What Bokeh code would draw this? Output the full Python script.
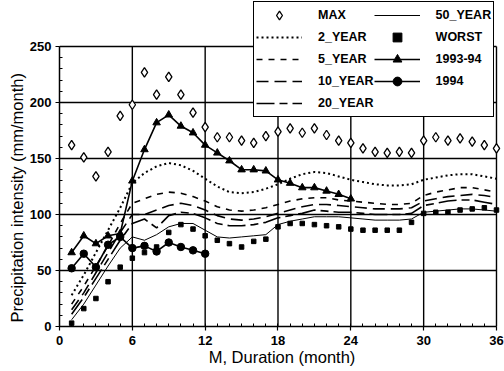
from bokeh.plotting import figure
from bokeh.models import Legend, LegendItem, Range1d, FixedTicker, Title
from bokeh.embed import file_html
from bokeh.resources import INLINE

months = list(range(1, 37))
max_vals = [162, 151, 134, 156, 188, 198, 227, 207, 223, 207, 191, 178,
            169, 169, 166, 164, 170, 174, 177, 173, 177, 171, 166, 164,
            159, 156, 155, 156, 155, 166, 169, 166, 168, 165, 162, 159]
worst_vals = [3, 16, 25, 40, 53, 61, 66, 71, 84, 91, 87, 81,
              77, 74, 71, 76, 78, 89, 92, 92, 91, 90, 89, 87,
              86, 86, 86, 86, 93, 101, 102, 102, 104, 105, 106, 104]
y2 = [28, 46, 66, 86, 106, 128, 137, 143, 146, 144, 139, 132,
      125, 120, 119, 120, 123, 127, 132, 136, 138, 137, 134, 131,
      129, 127, 126, 126, 127, 131, 133, 135, 136, 136, 134, 132]
y5 = [20, 36, 54, 72, 92, 110, 114, 118, 120, 119, 116, 112,
      107, 104, 103, 104, 106, 109, 112, 114, 115, 115, 113, 112,
      111, 110, 109, 109, 110, 117, 120, 122, 124, 124, 122, 120]
y10 = [15, 30, 48, 66, 84, 100, 100, 104, 108, 110, 108, 104,
       99, 96, 95, 96, 98, 101, 104, 107, 109, 109, 108, 107,
       106, 105, 105, 105, 106, 112, 114, 116, 117, 118, 117, 115]
y20 = [11, 26, 43, 60, 77, 92, 96, 88, 99, 102, 101, 97,
       92, 90, 90, 91, 93, 97, 99, 101, 104, 103, 102, 102,
       101, 100, 100, 100, 101, 108, 110, 112, 113, 113, 111, 109]
y50 = [6, 20, 37, 54, 70, 80, 77, 82, 89, 92, 92, 86,
       80, 79, 80, 81, 82, 91, 94, 96, 98, 98, 98, 97,
       96, 95, 95, 95, 96, 102, 103, 104, 105, 105, 104, 103]
m9394 = list(range(1, 25))
v9394 = [66, 81, 74, 81, 83, 130, 158, 182, 189, 179, 173, 162,
         155, 148, 140, 140, 139, 131, 128, 124, 124, 121, 118, 114]
m94 = list(range(1, 13))
v94 = [52, 65, 53, 73, 80, 70, 72, 67, 75, 71, 68, 65]
x_ticks = [0, 6, 12, 18, 24, 30, 36]
y_ticks = [0, 50, 100, 150, 200, 250]

FONT = "Liberation Sans"

# The plotting frame is made a little larger than the 0-36 x 0-250 axes box,
# so that the legend, which overhangs the box, is not clipped.
p = figure(width=504, height=371, output_backend="svg", toolbar_location=None,
           x_range=Range1d(0, 36.66), y_range=Range1d(0, 291.1),
           min_border_left=59, min_border_right=0, min_border_top=0,
           min_border_bottom=45)
p.background_fill_color = "white"
p.border_fill_color = "white"
p.outline_line_color = None
p.grid.visible = False

for ax in (p.xaxis[0], p.yaxis[0]):
    ax.axis_line_width = 1.5
    ax.major_tick_line_width = 1.2
    ax.minor_tick_line_width = 1
    ax.major_tick_in = 0
    ax.major_tick_out = 4
    ax.minor_tick_in = 3
    ax.minor_tick_out = 0
    ax.major_label_text_font = FONT
    ax.major_label_text_font_size = "13px"
    ax.major_label_text_font_style = "bold"
    ax.major_label_text_color = "black"
    ax.axis_label_text_font = FONT
    ax.axis_label_text_font_size = "16.5px"
    ax.axis_label_text_font_style = "normal"
    ax.axis_label_text_color = "black"

p.xaxis.bounds = (x_ticks[0], x_ticks[-1])
p.yaxis.bounds = (y_ticks[0], y_ticks[-1])
p.xaxis.ticker = FixedTicker(ticks=x_ticks, minor_ticks=list(range(0, 37)))
p.yaxis.ticker = FixedTicker(ticks=y_ticks, minor_ticks=list(range(0, 251, 10)))
p.xaxis.axis_label = "M, Duration (month)"
p.xaxis.axis_label_standoff = 0
p.xaxis.major_label_standoff = 5
p.yaxis.major_label_standoff = 4

ylab = Title(text="Precipitation intensity  (mm/month)", align="left", offset=4,
             standoff=2, text_font=FONT, text_font_size="16.5px",
             text_font_style="normal", text_color="black")
p.add_layout(ylab, "left")

# grid lines and the top/right edges of the axes box, limited to the 0-36 x 0-250 box
nv = len(x_ticks) - 1
nh = len(y_ticks) - 1
p.segment(x0=x_ticks[1:], y0=[y_ticks[0]] * nv, x1=x_ticks[1:], y1=[y_ticks[-1]] * nv,
          line_color="black", line_width=1.4)
p.segment(x0=[x_ticks[0]] * nh, y0=y_ticks[1:], x1=[x_ticks[-1]] * nh, y1=y_ticks[1:],
          line_color="black", line_width=1.4)

r_max = p.scatter(months, max_vals, marker="diamond", size=9.5, fill_color="white",
                  line_color="black", line_width=1.3)
r2 = p.line(months, y2, line_color="black", line_width=2, line_dash="2 3")
r5 = p.line(months, y5, line_color="black", line_width=1.6, line_dash="6 6")
r10 = p.line(months, y10, line_color="black", line_width=1.6, line_dash="12 6")
r20 = p.line(months, y20, line_color="black", line_width=1.6, line_dash="18 5 8 5")
r50 = p.line(months, y50, line_color="black", line_width=1)
r_worst = p.scatter(months, worst_vals, marker="square", size=4.5, fill_color="black",
                    line_color="black")
r93l = p.line(m9394, v9394, line_color="black", line_width=1.6)
r93m = p.scatter(m9394, v9394, marker="triangle", size=7.5, fill_color="black",
                 line_color="black")
r94l = p.line(m94, v94, line_color="black", line_width=1.6)
r94m = p.scatter(m94, v94, marker="circle", size=7.5, fill_color="black",
                 line_color="black")

items = [
    LegendItem(label="MAX", renderers=[r_max]),
    LegendItem(label="2_YEAR", renderers=[r2]),
    LegendItem(label="5_YEAR", renderers=[r5]),
    LegendItem(label="10_YEAR", renderers=[r10]),
    LegendItem(label="20_YEAR", renderers=[r20]),
    LegendItem(label="50_YEAR", renderers=[r50]),
    LegendItem(label="WORST", renderers=[r_worst]),
    LegendItem(label="1993-94", renderers=[r93l, r93m]),
    LegendItem(label="1994", renderers=[r94l, r94m]),
]
legend = Legend(items=items, location=(194, 209), ncols=2,
                glyph_width=46, glyph_height=22, spacing=0, padding=2,
                label_standoff=16, margin=0,
                label_text_font=FONT, label_text_font_size="12.5px",
                label_text_font_style="bold", label_text_color="black",
                border_line_color="black", border_line_width=1.5, border_line_alpha=1,
                background_fill_color="white", background_fill_alpha=1)
p.add_layout(legend, "center")

open("out.html", "w").write(file_html(p, INLINE))
